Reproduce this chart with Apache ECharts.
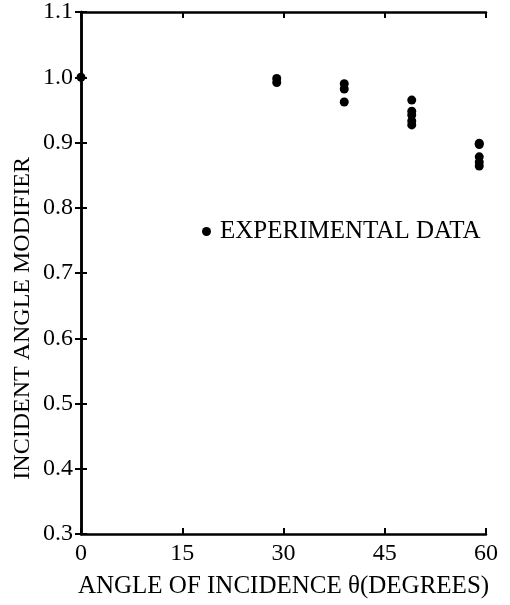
<!DOCTYPE html>
<html>
<head>
<meta charset="utf-8">
<script src="https://cdn.jsdelivr.net/npm/echarts@6/dist/echarts.min.js"></script>
<style>
  html, body { margin: 0; padding: 0; background: #fff; }
</style>
</head>
<body>
<div id="main" style="width: 510px; height: 605px;"></div>
<script>
var angles = [0, 29, 29, 39, 39, 39, 49, 49, 49, 49, 49, 59, 59, 59, 59, 59];
var modifier = [1.0, 0.998, 0.992, 0.99, 0.982, 0.962, 0.965, 0.948, 0.942, 0.933, 0.927, 0.899, 0.897, 0.878, 0.870, 0.864];
var seriesName = 'EXPERIMENTAL DATA';

var font = 'Liberation Serif';
var points = angles.map(function (a, i) { return [a, modifier[i]]; });

var chart = echarts.init(document.getElementById('main'));

var frameLine = { show: true, lineStyle: { color: '#000', width: 2.5 } };
var innerTick = { show: true, inside: true, length: 6, lineStyle: { color: '#000', width: 2 } };

var option = {
  backgroundColor: '#fff',
  animation: false,
  grid: { left: 81, right: 24, top: 7, bottom: 71 },
  legend: {
    data: [seriesName],
    left: 197,
    top: 214,
    icon: 'circle',
    itemWidth: 9,
    itemHeight: 9,
    itemGap: 0,
    textStyle: { fontFamily: font, fontSize: 25, color: '#000', padding: [0, 0, 0, 4] }
  },
  xAxis: [
    {
      type: 'value', min: 0, max: 60, interval: 15, position: 'bottom',
      axisLine: frameLine, axisTick: innerTick, splitLine: { show: false },
      axisLabel: { fontFamily: font, fontSize: 24, color: '#000', margin: 8 },
      name: 'ANGLE OF INCIDENCE \u03b8(DEGREES)',
      nameLocation: 'middle', nameGap: 40,
      nameTextStyle: { fontFamily: font, fontSize: 25, color: '#000' }
    },
    {
      type: 'value', min: 0, max: 60, interval: 15, position: 'top',
      axisLine: frameLine, axisTick: innerTick, splitLine: { show: false },
      axisLabel: { show: false }
    }
  ],
  yAxis: [
    {
      type: 'value', min: 0.3, max: 1.1, interval: 0.1, position: 'left',
      axisLine: frameLine, axisTick: innerTick, splitLine: { show: false },
      axisLabel: {
        fontFamily: font, fontSize: 24, color: '#000', margin: 8,
        formatter: function (v) { return v.toFixed(1); }
      }
    },
    {
      type: 'value', min: 0.3, max: 1.1, interval: 0.1, position: 'right',
      axisLine: frameLine, axisTick: innerTick, splitLine: { show: false },
      axisLabel: { show: false }
    }
  ],
  graphic: [
    {
      type: 'text',
      left: 11,
      top: 157,
      rotation: Math.PI / 2,
      style: {
        text: 'INCIDENT ANGLE MODIFIER',
        fontFamily: font,
        fontSize: 24,
        fill: '#000'
      }
    }
  ],
  series: [
    {
      name: seriesName,
      type: 'scatter',
      symbol: 'circle',
      symbolSize: 9,
      clip: false,
      itemStyle: { color: '#000', opacity: 1 },
      data: points
    }
  ]
};

chart.setOption(option);
</script>
</body>
</html>
